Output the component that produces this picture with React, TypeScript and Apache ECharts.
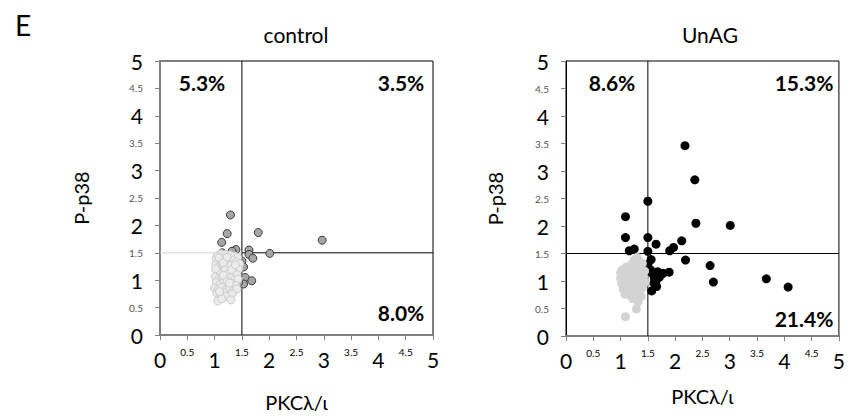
import React, { useEffect, useRef } from "react";
import * as echarts from "echarts";

const panelLetter = "E";
const panelTitles = ["control", "UnAG"];
const xAxisName = "PKCλ/ι";
const yAxisName = "P-p38";
const axisMin = 0;
const axisMax = 5;
const axisStep = 0.5;
const cutoff = 1.5;

// quadrant percentages: [upper-left, upper-right, lower-right]
const controlPercents = ["5.3%", "3.5%", "8.0%"];
const unagPercents = ["8.6%", "15.3%", "21.4%"];

// control: cells outside the lower-left gate (dark grey)
const controlPositive: number[][] = [
  [1.29, 2.19], [1.23, 1.85], [1.13, 1.69], [1.80, 1.87], [2.97, 1.73], [2.01, 1.49],
  [1.63, 1.55], [1.63, 1.47], [1.70, 1.40], [1.39, 1.56], [1.32, 1.53], [1.14, 1.50],
  [1.50, 1.35], [1.53, 1.24], [1.56, 1.05], [1.68, 0.99], [1.53, 0.93], [1.46, 1.32],
  [1.44, 0.96],
];

// control: cells in the lower-left gate (light grey)
const controlNegative: number[][] = [
  [1.05, 1.45], [1.12, 1.48], [1.20, 1.47], [1.28, 1.46], [1.36, 1.44], [1.42, 1.42],
  [1.03, 1.38], [1.10, 1.36], [1.18, 1.39], [1.25, 1.35], [1.33, 1.37], [1.40, 1.33], [1.46, 1.30],
  [1.02, 1.28], [1.08, 1.25], [1.15, 1.29], [1.22, 1.24], [1.30, 1.27], [1.37, 1.22], [1.44, 1.20],
  [1.04, 1.17], [1.11, 1.14], [1.19, 1.18], [1.26, 1.12], [1.34, 1.15], [1.41, 1.10],
  [1.01, 1.06], [1.07, 1.03], [1.14, 1.07], [1.21, 1.01], [1.29, 1.04], [1.36, 1.00], [1.43, 1.02],
  [1.03, 0.96], [1.10, 0.93], [1.17, 0.97], [1.24, 0.91], [1.31, 0.94], [1.39, 0.90],
  [1.00, 0.86], [1.06, 0.83], [1.13, 0.87], [1.20, 0.81], [1.27, 0.85], [1.34, 0.80], [1.41, 0.84],
  [1.04, 0.76], [1.11, 0.73], [1.18, 0.77], [1.25, 0.72], [1.32, 0.75],
  [1.06, 0.62], [1.20, 0.70], [1.30, 0.64], [1.13, 0.66],
  [1.08, 1.41], [1.16, 1.32], [1.23, 1.42], [1.31, 1.19], [1.16, 1.09], [1.23, 0.98],
  [1.09, 0.79], [1.38, 1.28], [1.02, 1.21], [1.27, 0.95],
];

// UnAG: cells outside the lower-left gate (black)
const unagPositive: number[][] = [
  [2.18, 3.46], [2.36, 2.84], [1.50, 2.45], [1.09, 2.17], [2.38, 2.05], [3.01, 2.01],
  [1.09, 1.79], [1.50, 1.79], [1.65, 1.67], [2.12, 1.73], [1.97, 1.61], [1.90, 1.55],
  [1.25, 1.58], [1.16, 1.55], [1.50, 1.54], [1.56, 1.39], [2.19, 1.38], [2.64, 1.28],
  [2.70, 0.98], [3.67, 1.04], [4.07, 0.89], [1.50, 1.17], [1.68, 1.17], [1.78, 1.14],
  [1.89, 1.16], [1.62, 1.05], [1.61, 0.96], [1.57, 0.82], [1.71, 1.07], [1.65, 1.00],
  [1.74, 1.12], [1.50, 1.30], [1.55, 1.20], [1.60, 1.12], [1.66, 0.90],
];

// UnAG: cells in the lower-left gate (light grey)
const unagNegative: number[][] = [
  [1.30, 1.43], [1.25, 1.38], [1.35, 1.36], [1.40, 1.32], [1.20, 1.30], [1.10, 1.25],
  [1.03, 1.20], [1.15, 1.22], [1.28, 1.24], [1.38, 1.20], [1.44, 1.18],
  [1.05, 1.12], [1.12, 1.15], [1.22, 1.13], [1.33, 1.10], [1.42, 1.08], [1.00, 1.05],
  [1.08, 1.02], [1.18, 1.06], [1.27, 1.03], [1.36, 1.00], [1.45, 0.98],
  [1.02, 0.95], [1.10, 0.92], [1.20, 0.96], [1.30, 0.90], [1.40, 0.88], [1.05, 0.85],
  [1.14, 0.82], [1.24, 0.86], [1.34, 0.80], [1.08, 0.76], [1.18, 0.74], [1.28, 0.78],
  [1.38, 0.72], [1.22, 0.68], [1.32, 0.62], [1.29, 0.49], [1.09, 0.35], [1.00, 1.15],
  [1.15, 0.98], [1.25, 0.93],
];

const FONT = "Lato";

const labelFormatter = (v: number) =>
  Number.isInteger(v) ? `{big|${v}}` : `{small|${v}}`;

export default function App() {
  const ref = useRef<HTMLDivElement>(null);

  useEffect(() => {
    if (!ref.current) return;
    const chart = echarts.init(ref.current, undefined, { renderer: "svg" });

    const grids = [
      { left: 160, top: 61, width: 273, height: 275 },
      { left: 566, top: 61, width: 274, height: 275 },
    ];

    const makeX = (i: number) => ({
      type: "value",
      gridIndex: i,
      min: axisMin,
      max: axisMax,
      interval: axisStep,
      name: xAxisName,
      nameLocation: "middle",
      nameGap: i === 0 ? 57 : 50,
      nameTextStyle: { fontFamily: FONT, fontSize: 20, color: "#000" },
      axisLine: { show: true, lineStyle: { color: "#7f7f7f", width: 2 } },
      axisTick: { show: true, length: 5, lineStyle: { color: "#7f7f7f", width: 1 } },
      splitLine: { show: false },
      axisLabel: {
        margin: 12,
        formatter: labelFormatter,
        rich: {
          big: { fontFamily: FONT, fontSize: 21, color: "#000", padding: [2, 0, 0, 0] },
          small: { fontFamily: FONT, fontSize: 10, color: "#000" },
        },
      },
    });

    const makeY = (i: number) => ({
      type: "value",
      gridIndex: i,
      min: axisMin,
      max: axisMax,
      interval: axisStep,
      name: yAxisName,
      nameLocation: "middle",
      nameGap: i === 0 ? 69 : 61,
      nameRotate: 90,
      nameTextStyle: { fontFamily: FONT, fontSize: 20, color: "#000" },
      axisLine: {
        show: true,
        lineStyle: i === 0 ? { color: "#7f7f7f", width: 2 } : { color: "#000", width: 1 },
      },
      axisTick: { show: true, length: 5, lineStyle: { color: "#7f7f7f", width: 1 } },
      splitLine: { show: false },
      axisLabel: {
        margin: 17,
        formatter: labelFormatter,
        rich: {
          big: { fontFamily: FONT, fontSize: 21, color: "#000" },
          small: { fontFamily: FONT, fontSize: 10, color: "#555" },
        },
      },
    });

    const lineSeries = (i: number, data: number[][], color: string) => ({
      type: "line",
      xAxisIndex: i,
      yAxisIndex: i,
      data,
      symbol: "none",
      silent: true,
      lineStyle: { color, width: 1 },
      z: 1,
    });

    const series: any[] = [
      lineSeries(0, [[cutoff, axisMin], [cutoff, axisMax]], "#000"),
      lineSeries(0, [[axisMin, cutoff], [cutoff, cutoff]], "#d4d4d4"),
      lineSeries(0, [[cutoff, cutoff], [axisMax, cutoff]], "#000"),
      lineSeries(1, [[cutoff, axisMin], [cutoff, axisMax]], "#000"),
      lineSeries(1, [[axisMin, cutoff], [axisMax, cutoff]], "#000"),
      {
        type: "scatter",
        xAxisIndex: 0,
        yAxisIndex: 0,
        data: controlPositive,
        symbolSize: 8,
        itemStyle: { color: "#a6a6a6", borderColor: "#3a3a3a", borderWidth: 1, opacity: 1 },
        z: 3,
      },
      {
        type: "scatter",
        xAxisIndex: 0,
        yAxisIndex: 0,
        data: controlNegative,
        symbolSize: 8,
        itemStyle: { color: "#ebebeb", borderColor: "#cdcdcd", borderWidth: 1, opacity: 1 },
        z: 4,
      },
      {
        type: "scatter",
        xAxisIndex: 1,
        yAxisIndex: 1,
        data: unagPositive,
        symbolSize: 9,
        itemStyle: { color: "#000", opacity: 1 },
        z: 3,
      },
      {
        type: "scatter",
        xAxisIndex: 1,
        yAxisIndex: 1,
        data: unagNegative,
        symbolSize: 9,
        itemStyle: { color: "#d3d3d3", opacity: 1 },
        z: 4,
      },
    ];

    const pctStyle = {
      fontFamily: FONT,
      fontSize: 21,
      fontWeight: "bold",
      fill: "#000",
      textAlign: "center",
      textVerticalAlign: "middle",
    };

    const pctPos = [
      [[202, 82], [401, 82], [401, 312]],
      [[612, 82], [804, 82], [804, 318]],
    ];
    const pctTexts = [controlPercents, unagPercents];

    const graphic: any[] = [
      {
        type: "text",
        left: 15,
        top: 11,
        style: { text: panelLetter, fontFamily: FONT, fontSize: 28, fill: "#000" },
      },
      {
        type: "text",
        x: 296,
        y: 34,
        style: { text: panelTitles[0], fontFamily: FONT, fontSize: 21, fill: "#000", textAlign: "center", textVerticalAlign: "middle" },
      },
      {
        type: "text",
        x: 710,
        y: 34,
        style: { text: panelTitles[1], fontFamily: FONT, fontSize: 21, fill: "#000", textAlign: "center", textVerticalAlign: "middle" },
      },
    ];
    pctTexts.forEach((arr, p) =>
      arr.forEach((t, k) =>
        graphic.push({
          type: "text",
          x: pctPos[p][k][0],
          y: pctPos[p][k][1],
          z: 10,
          style: { ...pctStyle, text: t },
        })
      )
    );

    chart.setOption({
      animation: false,
      backgroundColor: "#fff",
      textStyle: { fontFamily: FONT },
      grid: grids.map((g) => ({
        ...g,
        show: true,
        borderColor: "#000",
        borderWidth: 1,
        backgroundColor: "transparent",
        containLabel: false,
      })),
      xAxis: [makeX(0), makeX(1)],
      yAxis: [makeY(0), makeY(1)],
      series,
      graphic,
    });

    return () => chart.dispose();
  }, []);

  return (
    <div
      ref={ref}
      style={{ position: "absolute", left: 0, top: 0, width: 848, height: 417 }}
    />
  );
}
